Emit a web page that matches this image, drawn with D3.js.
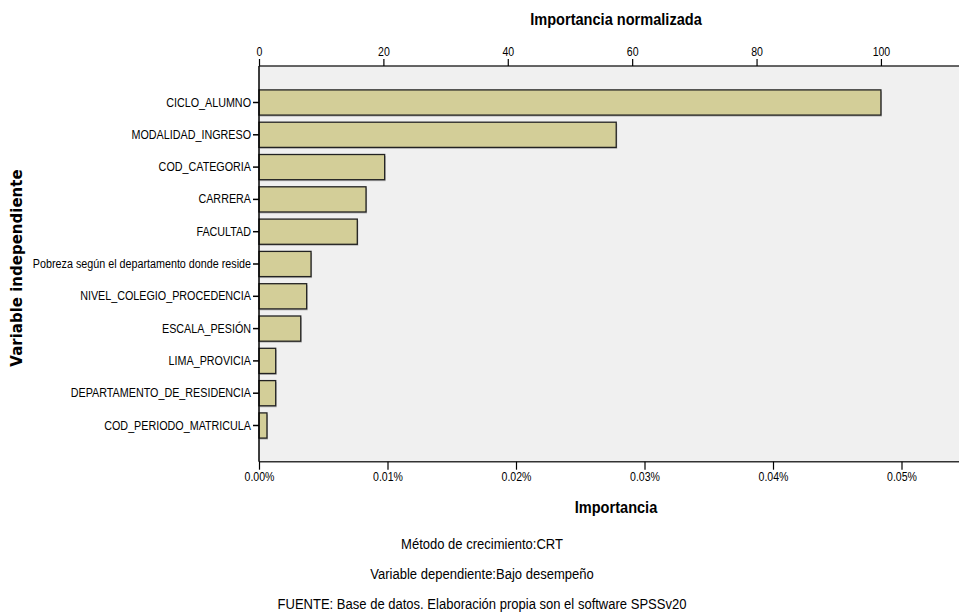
<!DOCTYPE html>
<html><head><meta charset="utf-8">
<script src="https://cdn.jsdelivr.net/npm/d3@7/dist/d3.min.js"></script>
<style>
html,body{margin:0;padding:0;background:#fff;}
svg{display:block;}
text{font-family:"Liberation Sans",Arial,sans-serif;fill:#000;}
</style></head>
<body>
<svg id="chart" width="959" height="612"></svg>
<script>
// Data (importance in percent)
const categories = ["CICLO_ALUMNO","MODALIDAD_INGRESO","COD_CATEGORIA","CARRERA","FACULTAD",
  "Pobreza según el departamento donde reside","NIVEL_COLEGIO_PROCEDENCIA","ESCALA_PESIÓN",
  "LIMA_PROVICIA","DEPARTAMENTO_DE_RESIDENCIA","COD_PERIODO_MATRICULA"];
const importance = [0.0484,0.0278,0.00978,0.00833,0.00765,0.00405,0.00371,0.00325,0.0013,0.0013,0.00062];
const topTicks = [0,20,40,60,80,100];
const bottomTicks = [0,0.01,0.02,0.03,0.04,0.05];
const footnotes = ["Método de crecimiento:CRT","Variable dependiente:Bajo desempeño",
  "FUENTE: Base de datos. Elaboración propia son el software SPSSv20"];

// horizontally condense text (emulates a narrow font)
function condense(sel, f) {
  sel.each(function() {
    const len = this.getComputedTextLength();
    d3.select(this).attr("textLength", len * f).attr("lengthAdjust", "spacingAndGlyphs");
  });
}

const svg = d3.select("#chart");
const L = 259, R = 959, T = 66, B = 461.7;
const maxImp = d3.max(importance);

const x = d3.scaleLinear().domain([0, (R-L)/128.5*0.01]).range([L, R]);
const xn = d3.scaleLinear().domain([0, maxImp]).range([0, 100]);
const xTop = d3.scaleLinear().domain([xn(x.invert(L)), xn(x.invert(R))]).range([L, R]);
const y = d3.scaleBand().domain(categories).range([86.35, 441.65]).paddingInner(0.22).paddingOuter(0.11);

// plot background
svg.append("rect").attr("x", L).attr("y", T).attr("width", R-L).attr("height", B-T).attr("fill", "#f0f0f0");

// bars with subtle shadow
const g = svg.append("g");
g.selectAll("rect.shadow").data(categories).join("rect")
  .attr("x", L+1).attr("y", d => y(d)+1.5)
  .attr("width", (d,i) => x(importance[i]) - L)
  .attr("height", y.bandwidth())
  .attr("fill", "#b8b8b8");
g.selectAll("rect.bar").data(categories).join("rect")
  .attr("x", L).attr("y", d => y(d))
  .attr("width", (d,i) => x(importance[i]) - L)
  .attr("height", y.bandwidth())
  .attr("fill", "#d3ce98").attr("stroke", "#222").attr("stroke-width", 1.3);

// top axis
const topAxis = d3.axisTop(xTop).tickValues(topTicks).tickSize(7).tickPadding(3).tickFormat(d3.format("d"));
const ta = svg.append("g").attr("transform", `translate(0,${T})`).call(topAxis);
ta.select(".domain").attr("stroke", "#333").attr("stroke-width", 1.5).attr("d", `M${L},0H${R}`);
ta.selectAll(".tick line").attr("stroke", "#000").attr("stroke-width", 1.2);
ta.selectAll(".tick text").style("font-size", "12px").style("font-family", null).call(condense, 0.88);

// bottom axis
const botAxis = d3.axisBottom(x).tickValues(bottomTicks).tickSize(8).tickPadding(3).tickFormat(d => d.toFixed(2) + "%");
const ba = svg.append("g").attr("transform", `translate(0,${B})`).call(botAxis);
ba.select(".domain").attr("stroke", "#333").attr("stroke-width", 1.5).attr("d", `M${L},0H${R}`);
ba.selectAll(".tick line").attr("stroke", "#000").attr("stroke-width", 1.2);
ba.selectAll(".tick text").style("font-size", "12px").style("font-family", null).call(condense, 0.88);

// left axis
const leftAxis = d3.axisLeft(y).tickSize(6).tickPadding(2);
const la = svg.append("g").attr("transform", `translate(${L},0)`).call(leftAxis);
la.select(".domain").attr("stroke", "#000").attr("stroke-width", 1.5).attr("d", `M0,${T}V${B}`);
la.selectAll(".tick line").attr("stroke", "#000").attr("stroke-width", 1.5);
la.selectAll(".tick text").style("font-size", "12.5px").style("font-family", null).call(condense, 0.86);

// titles
svg.append("text").attr("x", 616).attr("y", 19).attr("text-anchor", "middle").attr("dominant-baseline", "central")
  .style("font-weight", "bold").style("font-size", "16px").text("Importancia normalizada").call(condense, 0.91);
svg.append("text").attr("x", 616).attr("y", 507).attr("text-anchor", "middle").attr("dominant-baseline", "central")
  .style("font-weight", "bold").style("font-size", "16px").text("Importancia").call(condense, 0.91);
svg.append("text").attr("transform", "translate(17,268) rotate(-90)").attr("text-anchor", "middle").attr("dominant-baseline", "central")
  .style("font-weight", "bold").style("font-size", "15px").style("font-family", "'DejaVu Sans',Verdana,sans-serif")
  .text("Variable independiente");

// footnotes
svg.selectAll("text.foot").data(footnotes).join("text").attr("class", "foot")
  .attr("x", 482).attr("y", (d,i) => 544 + i*30).attr("text-anchor", "middle").attr("dominant-baseline", "central")
  .style("font-size", "14px").text(d => d).call(condense, 0.93);
</script>
</body></html>
